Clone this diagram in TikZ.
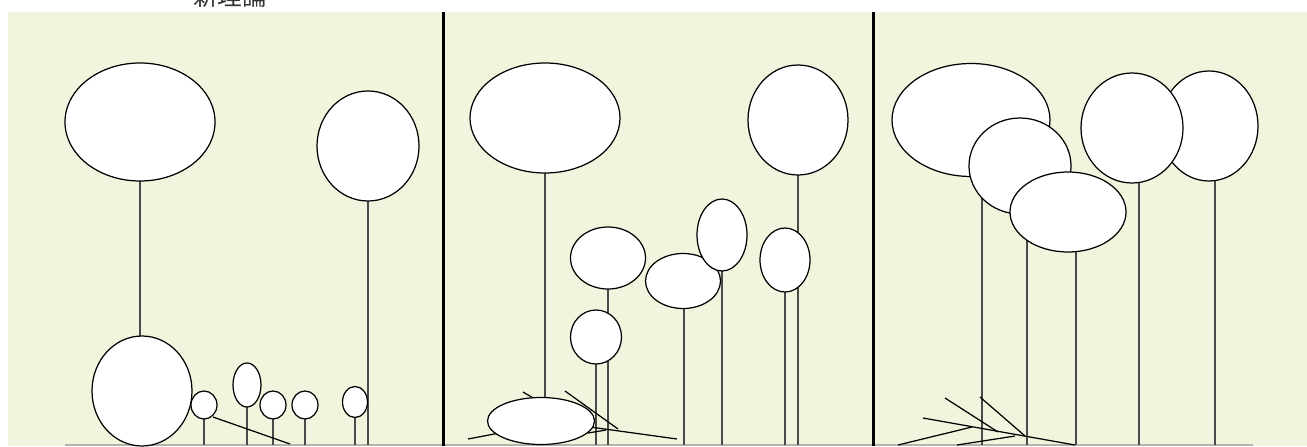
\documentclass[tikz,border=0pt]{standalone}
\usepackage{fontspec}
\newfontfamily\cjk{Noto Sans CJK JP}
\usepackage{tikz}
\usetikzlibrary{calc}
\definecolor{meadow}{HTML}{F0F5DE}
\definecolor{stemgray}{HTML}{4A4A4A}
\definecolor{groundgray}{HTML}{B4B4AA}

\begin{document}
\begin{tikzpicture}[
    x=0.02cm, y=-0.02cm,
    crown/.style={draw=black, fill=white, line width=0.7pt},
    stem/.style={draw=stemgray, line width=0.8pt},
    twig/.style={draw=black, line width=0.7pt},
    divider/.style={draw=black, line width=1.7pt},
    ground/.style={draw=groundgray, line width=1pt}
]
\useasboundingbox (0,0) rectangle (1307,446);
\fill[meadow] (8,12) rectangle (1307,446);
\node[font=\cjk\fontsize{14}{14}\selectfont, text=black!80, inner sep=0pt, anchor=south]
    (title) at (230,8) {新理論};
\draw[ground] (65,445) -- (1253,445);

% panel 1
\draw[stem] (140,122) -- (140,445);
\draw[stem] (368,146) -- (368,445);
\foreach \sx in {204,247,273,305,355}
    \draw[stem] (\sx,405) -- (\sx,445);
\draw[twig] (213,417) -- (290,444);
\draw[crown] (140,122) ellipse [x radius=75, y radius=59];
\draw[crown] (368,146) ellipse [x radius=51, y radius=55];
\draw[crown] (142,391) ellipse [x radius=50, y radius=55];
\draw[crown] (204,405) ellipse [x radius=13, y radius=14];
\draw[crown] (247,385) ellipse [x radius=14, y radius=22];
\draw[crown] (273,405) ellipse [x radius=13, y radius=14];
\draw[crown] (305,405) ellipse [x radius=13, y radius=14];
\draw[crown] (355,402) ellipse [x radius=12.5, y radius=15.5];

% panel 2
\draw[stem] (545,118) -- (545,420);
\foreach \sx/\sy in {798/120, 608/258, 596/337, 684/281, 722/235, 785/260}
    \draw[stem] (\sx,\sy) -- (\sx,445);
\draw[twig] (468,439) -- (510,431);
\draw[twig] (523,392) -- (545,405);
\draw[twig] (565,391) -- (618,429);
\draw[twig] (590,427) -- (677,439);
\draw[twig] (588,433) -- (606,430);
\draw[crown] (545,118) ellipse [x radius=75, y radius=55];
\draw[crown] (798,120) ellipse [x radius=50, y radius=55];
\draw[crown] (608,258) ellipse [x radius=37.5, y radius=31];
\draw[crown] (596,337) ellipse [x radius=25.5, y radius=27];
\draw[crown] (683,281) ellipse [x radius=37.5, y radius=27.5];
\draw[crown] (722,235) ellipse [x radius=25, y radius=36];
\draw[crown] (785,260) ellipse [x radius=25, y radius=32];
\draw[crown] (541,421) ellipse [x radius=53.5, y radius=23.5];

% panel 3
\foreach \sx/\sy in {982/180, 1027/212, 1076/212, 1139/128, 1215/126}
    \draw[stem] (\sx,\sy) -- (\sx,445);
\draw[twig] (945,398) -- (998,432);
\draw[twig] (980,397) -- (1025,436);
\draw[twig] (923,418) -- (1075,445);
\draw[twig] (898,445) -- (972,427);
\draw[twig] (957,445) -- (1015,436);
\draw[crown] (971,120) ellipse [x radius=79, y radius=56.5];
\draw[crown] (1020,166) ellipse [x radius=51, y radius=48];
\draw[crown] (1068,212) ellipse [x radius=58, y radius=40];
\draw[crown] (1209,126) ellipse [x radius=49, y radius=55];
\draw[crown] (1132,128) ellipse [x radius=51, y radius=55];

\draw[divider] (443,12) -- (443,446);
\draw[divider] (873,12) -- (873,446);
\end{tikzpicture}
\end{document}
